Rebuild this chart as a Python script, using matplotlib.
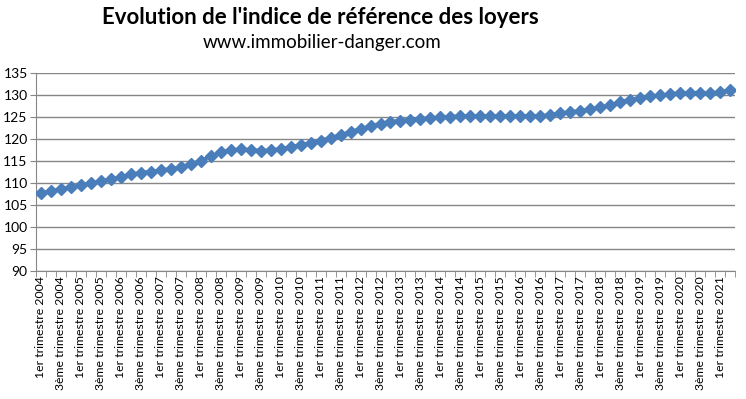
import matplotlib
matplotlib.use("Agg")
import matplotlib.pyplot as plt
import numpy as np

# Indice de reference des loyers, trimestriel, T1 2004 -> T2 2021
years = list(range(2004, 2022))
irl = [107.7, 108.2, 108.6, 109.1,
       109.5, 110.0, 110.4, 110.9,
       111.3, 112.0, 112.4, 112.6,
       112.9, 113.3, 113.6, 114.3,
       115.12, 116.07, 117.03, 117.54,
       117.70, 117.59, 117.41, 117.47,
       117.81, 118.26, 118.70, 119.17,
       119.69, 120.31, 120.95, 121.68,
       122.37, 122.96, 123.55, 123.97,
       124.25, 124.44, 124.66, 124.83,
       125.00, 125.15, 125.24, 125.29,
       125.19, 125.25, 125.26, 125.28,
       125.26, 125.25, 125.33, 125.50,
       125.90, 126.19, 126.46, 126.82,
       127.22, 127.77, 128.45, 129.03,
       129.38, 129.72, 129.99, 130.26,
       130.57, 130.57, 130.59, 130.52,
       130.69, 131.12]

quarters = []
for y in years:
    for q in ["1er", "2ème", "3ème", "4ème"]:
        quarters.append(q + " trimestre " + str(y))
quarters = quarters[:len(irl)]

plt.rcParams['font.family'] = ['Lato', 'DejaVu Sans']

fig = plt.figure(figsize=(7.46, 3.99), dpi=100)
ax = fig.add_axes([36 / 746, 1 - 271 / 399, (735 - 36) / 746, (271 - 73.3) / 399])

x = np.arange(len(irl))
ax.plot(x, irl, color='#4A7EBB', lw=2.6, marker='D', ms=6,
        markerfacecolor='#4A7EBB', markeredgecolor='#4A7EBB', zorder=3)

ax.set_xlim(-0.5, len(irl) - 0.5)
ax.set_ylim(90, 135)
ax.set_yticks(np.arange(90, 136, 5))
ax.yaxis.grid(True, color='#868686', lw=1)
ax.set_axisbelow(True)

# labels on every other quarter, ticks between categories
ax.set_xticks(x[::2])
ax.set_xticklabels(quarters[::2], rotation=90, fontsize=8.8)
ax.set_xticks(np.arange(-0.5, len(irl), 1), minor=True)
ax.tick_params(axis='x', which='major', length=0, pad=4)
ax.tick_params(axis='x', which='minor', length=4, color='#868686')
ax.tick_params(axis='y', length=4, color='#868686', labelsize=10, pad=2)

for s in ['top', 'right']:
    ax.spines[s].set_visible(False)
ax.spines['left'].set_color('#868686')
ax.spines['bottom'].set_color('#868686')

fig.text(0.43, 0.955, "Evolution de l'indice de référence des loyers",
         ha='center', va='center', fontsize=16, fontweight='bold')
fig.text(0.432, 0.893, "www.immobilier-danger.com", ha='center', va='center',
         fontsize=13.5)

fig.savefig("out.png", dpi=100)
